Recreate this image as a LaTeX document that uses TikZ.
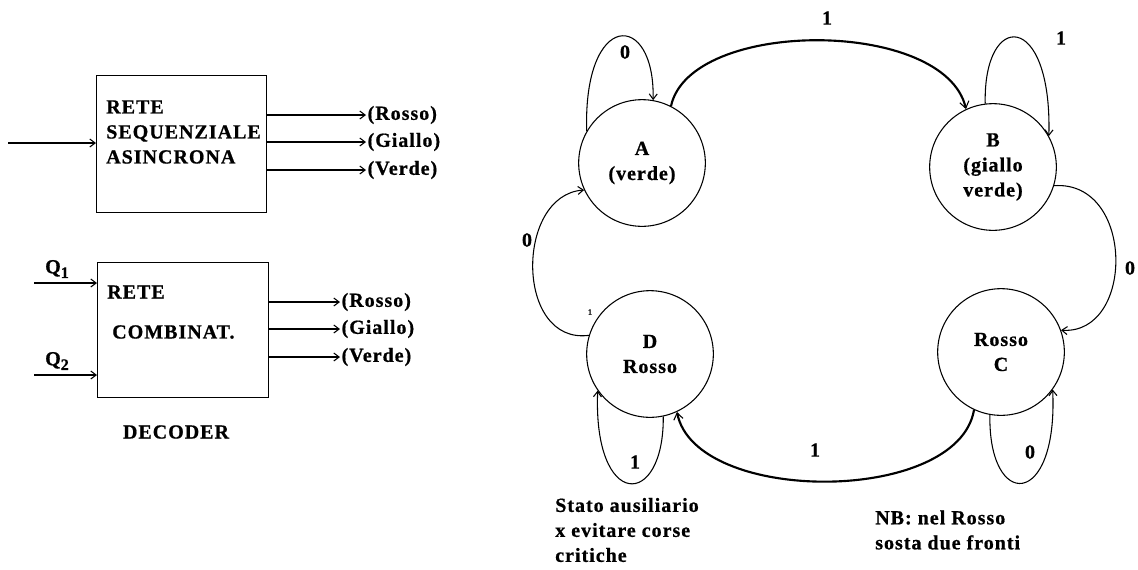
\documentclass[tikz,border=0pt]{standalone}
\usepackage{fontspec}
\setmainfont{Liberation Serif}[LetterSpace=5, BoldFeatures={FakeBold=0.8}]
\usetikzlibrary{arrows.meta}
\begin{document}
\begin{tikzpicture}[x=0.75pt,y=-0.75pt,
  every node/.style={font=\fontsize{15}{18.75}\selectfont\bfseries, inner sep=0pt},
  arr/.style={line width=0.8pt,-{Straight Barb[length=4pt,width=6pt]}},
  heavy arr/.style={line width=1.6pt,-{Straight Barb[length=5pt,width=7pt,line width=0.8pt]}},
  blockbox/.style={draw, line width=1pt, anchor=north west},
  state/.style={draw, circle, minimum size=95pt, line width=0.8pt, align=center},
  lbl/.style={anchor=west, inner sep=1pt},
  subidx/.style={font=\fontsize{12}{12}\selectfont\bfseries}]
\useasboundingbox (0,0) rectangle (1138,569);

% ---------- sequential network ----------
\node[blockbox, minimum width=127.5pt, minimum height=102.75pt] (rs) at (96,75) {};
\node[anchor=west, align=left] (rstxt) at (106,132) {RETE\\SEQUENZIALE\\ASINCRONA};
\coordinate (rsin) at (8,143);
\draw[arr] (rsin) -- (rsin -| rs.west);
\node[lbl] (r1) at (366,115) {(Rosso)};
\node[lbl] (r2) at (366,142) {(Giallo)};
\node[lbl] (r3) at (366,170) {(Verde)};
\draw[arr] (rs.east |- r1) -- (r1.west);
\draw[arr] (rs.east |- r2) -- (r2.west);
\draw[arr] (rs.east |- r3) -- (r3.west);

% ---------- decoder ----------
\node[blockbox, minimum width=128.25pt, minimum height=101.25pt] (dec) at (97,262) {};
\node[anchor=west] (dectxt1) at (107,292) {RETE};
\node[anchor=west] (dectxt2) at (112,332) {COMBINAT.};
\node (q1) at (57,269) {Q\raisebox{-3.5pt}{\fontsize{12}{12}\selectfont 1}};
\node (q2) at (57,361) {Q\raisebox{-3.5pt}{\fontsize{12}{12}\selectfont 2}};
\coordinate (q1in) at (34,283);
\coordinate (q2in) at (34,375);
\draw[arr] (q1in) -- (q1in -| dec.west);
\draw[arr] (q2in) -- (q2in -| dec.west);
\node[lbl] (d1) at (340,302) {(Rosso)};
\node[lbl] (d2) at (340,329) {(Giallo)};
\node[lbl] (d3) at (340,357) {(Verde)};
\draw[arr] (dec.east |- d1) -- (d1.west);
\draw[arr] (dec.east |- d2) -- (d2.west);
\draw[arr] (dec.east |- d3) -- (d3.west);
\node (decname) at (176,432) {DECODER};

% ---------- state diagram ----------
\node[state] (A) at (642,163) {A\\(verde)};
\node[state] (B) at (993,167) {B\\(giallo\\verde)};
\node[state] (C) at (1001,352) {Rosso\\C};
\node[state] (D) at (650,354) {D\\Rosso};

% transitions between states
\draw[heavy arr] (A.63) .. controls (690,18) and (945,18) .. (B.115);
\draw[arr] (B.-17) .. controls (1135,180) and (1135,335) .. (C.20);
\draw[heavy arr] (C.245) .. controls (958,505) and (695,505) .. (D.-65);
\draw[arr] (D.163) .. controls (515,345) and (515,195) .. (A.205);

% self loops
\draw[arr] (A.150) .. controls (583,10) and (655,10) .. (A.80);
\draw[arr] (B.97) .. controls (983,10) and (1052,10) .. (B.29);
\draw[arr] (C.260) .. controls (988,510) and (1058,510) .. (C.-36);
\draw[arr] (D.-78) .. controls (664,510) and (593,510) .. (D.215);

% labels
\node (lab) at (827,18) {1};
\node (laa) at (625,52) {0};
\node (lbb) at (1061,38) {1};
\node (lbc) at (1130,268) {0};
\node (lcd) at (815,450) {1};
\node (lcc) at (1030,452) {0};
\node (ldd) at (635,462) {1};
\node (lda) at (527,240) {0};
\node[font=\fontsize{6}{7}\selectfont\bfseries] (ltiny) at (590,312) {1};

% notes
\node[anchor=west, align=left] (aux) at (555,530) {Stato ausiliario\\x evitare corse\\critiche};
\node[anchor=west, align=left] (nb) at (875,530) {NB: nel Rosso\\sosta due fronti};
\end{tikzpicture}
\end{document}
